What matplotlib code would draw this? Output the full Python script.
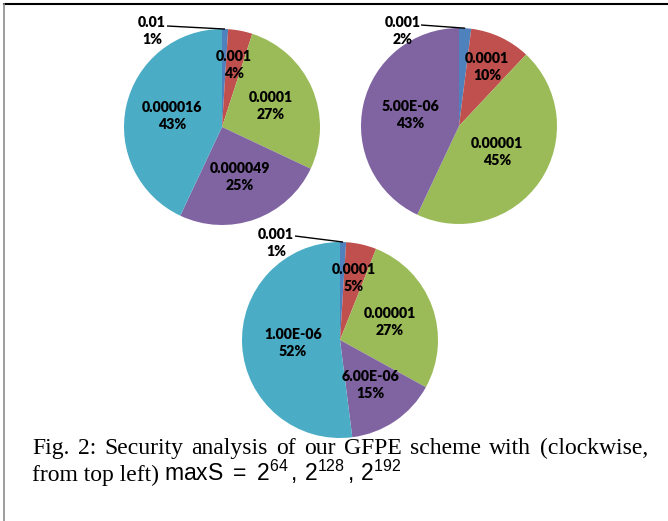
import numpy as np
import matplotlib
matplotlib.use("Agg")
import matplotlib.pyplot as plt

# ---- data ----
pie1_labels = ['0.01', '0.001', '0.0001', '0.000049', '0.000016']
pie1_pct = [1, 4, 27, 25, 43]
pie2_labels = ['0.001', '0.0001', '0.00001', '5.00E-06']
pie2_pct = [2, 10, 45, 43]
pie3_labels = ['0.001', '0.0001', '0.00001', '6.00E-06', '1.00E-06']
pie3_pct = [1, 5, 27, 15, 52]

colors = ['#4F81BD', '#C0504D', '#9BBB59', '#8064A2', '#4BACC6']

caption1 = "Fig. 2: Security analysis of our GFPE scheme with (clockwise,"
caption2 = "from top left)"
caption_math = r"$\mathrm{maxS}\ =\ 2^{64}\,,\,2^{128}\,,\,2^{192}$"

# ---- layout ----
W, H = 668, 521
plt.rcParams['mathtext.fontset'] = 'custom'
plt.rcParams['mathtext.rm'] = 'Liberation Sans'
plt.rcParams['mathtext.it'] = 'Liberation Sans'
plt.rcParams['mathtext.bf'] = 'Liberation Sans:bold'

fig = plt.figure(figsize=(W / 100, H / 100), dpi=100)
ax = fig.add_axes([0, 0, 1, 1])

LABEL_FONT = dict(family=['Lato', 'DejaVu Sans'], fontweight='heavy', fontsize=10.2,
                  color='black', ha='center', va='center', linespacing=1.35)


def draw_pie(values, labels, cx, cy_px, r, dists, out_text_px, line_start_px):
    cy = H - cy_px
    wedges, _ = ax.pie(values, colors=colors[:len(values)], startangle=90,
                       counterclock=False, center=(cx, cy), radius=r,
                       wedgeprops=dict(linewidth=0))
    for i, (w, lab, pct) in enumerate(zip(wedges, labels, values)):
        mid = np.deg2rad((w.theta1 + w.theta2) / 2)
        txt = f"{lab}\n{pct}%"
        if i == 0:
            # small slice: label outside with leader line
            tx, ty = out_text_px
            ax.text(tx, H - ty, txt, **LABEL_FONT)
            ex, ey = cx + r * np.cos(mid), cy + r * np.sin(mid)
            sx, sy = line_start_px
            ax.plot([sx, ex], [H - sy, ey], color='black', lw=1.0,
                    solid_capstyle='butt')
        else:
            d = dists[i] * r
            ax.text(cx + d * np.cos(mid), cy + d * np.sin(mid), txt, **LABEL_FONT)


draw_pie(pie1_pct, pie1_labels, 222, 127, 98,
         [0, 0.64, 0.54, 0.54, 0.52], (152, 31), (167, 26))
draw_pie(pie2_pct, pie2_labels, 459, 126, 98,
         [0, 0.67, 0.47, 0.51], (403, 31), (421, 25))
draw_pie(pie3_pct, pie3_labels, 340, 340, 98,
         [0, 0.65, 0.54, 0.55, 0.48], (276, 243), (295, 236))

ax.set_xlim(0, W)
ax.set_ylim(0, H)
ax.set_aspect('auto')
ax.axis('off')

# frame lines
ax.plot([4, W], [H - 4, H - 4], color='black', lw=1.5)
ax.plot([4, 4], [H - 4, 0], color='#8c8c8c', lw=1.2)

# caption (first line justified between x=32 and x=648)
cap_font = dict(family='Liberation Serif', fontsize=17, color='black', va='baseline', ha='left')
fig.canvas.draw()
renderer = fig.canvas.get_renderer()
words = caption1.split(' ')
wtexts = [ax.text(0, H - 454, w, **cap_font) for w in words]
widths = [t.get_window_extent(renderer).width for t in wtexts]
x0, x1 = 32, 648
gap = (x1 - x0 - sum(widths)) / (len(words) - 1)
x = x0
for t, wd in zip(wtexts, widths):
    t.set_x(x)
    x += wd + gap

t2 = ax.text(32, H - 481, caption2, **cap_font)
bb = t2.get_window_extent(renderer)
ax.text(bb.x1 + 5, H - 481, caption_math, fontsize=16.5, color='black',
        va='baseline', ha='left')

fig.savefig('out.png', dpi=100)
